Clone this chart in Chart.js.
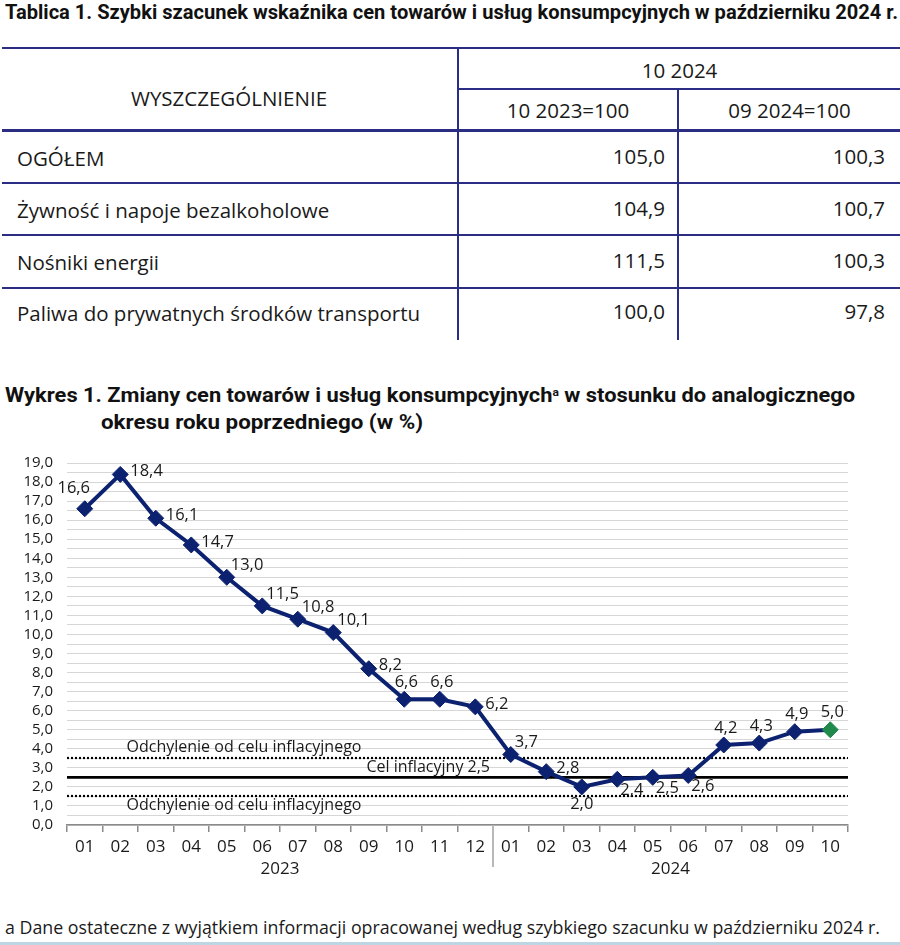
<!DOCTYPE html>
<html><head><meta charset="utf-8">
<script src="https://cdn.jsdelivr.net/npm/chart.js@4.4.0/dist/chart.umd.min.js"></script>
<style>
html,body{margin:0;padding:0;background:#fff;width:900px;height:945px;overflow:hidden;position:relative;font-family:"Open Sans",sans-serif;color:#1a1a1a}
.t{position:absolute;white-space:nowrap;line-height:26px;height:26px}
.title{font-family:"Liberation Sans Narrow","Roboto",sans-serif;font-weight:bold;font-size:20px;color:#111;transform-origin:0 50%}
.cell{font-size:20.5px}
.r{text-align:right}
.c{text-align:center}
.ln{position:absolute;background:#2b2d84}
#chartWrap{position:absolute;left:0;top:440px;width:900px;height:440px}
</style></head><body>

<div class="t title fit" data-w="893" style="left:5px;top:-1px">Tablica 1. Szybki szacunek wskaźnika cen towarów i usług konsumpcyjnych w październiku 2024 r.</div>

<!-- table lines -->
<div class="ln" style="left:2px;top:47px;width:898px;height:2px"></div>
<div class="ln" style="left:458px;top:88px;width:442px;height:2px"></div>
<div class="ln" style="left:2px;top:129px;width:898px;height:3px"></div>
<div class="ln" style="left:2px;top:182px;width:898px;height:2px"></div>
<div class="ln" style="left:2px;top:234px;width:898px;height:2px"></div>
<div class="ln" style="left:2px;top:287px;width:898px;height:2px"></div>
<div class="ln" style="left:457px;top:47px;width:2px;height:293px"></div>
<div class="ln" style="left:677px;top:88px;width:2px;height:252px"></div>

<div id="table"></div>

<div class="t title fit" data-w="850" style="left:5px;top:380px">Wykres 1. Zmiany cen towarów i usług konsumpcyjnych<sup style="font-size:11px;vertical-align:6px">a</sup> w stosunku do analogicznego</div>
<div class="t title fit" data-w="322" style="left:101px;top:409px">okresu roku poprzedniego (w %)</div>

<div id="chartWrap"><canvas id="c" width="900" height="440"></canvas></div>

<div class="t fit" data-w="875" style="left:5px;top:914px;font-size:18.5px;transform-origin:0 50%">a Dane ostateczne z wyjątkiem informacji opracowanej według szybkiego szacunku w październiku 2024 r.</div>
<div style="position:absolute;left:0;top:942px;width:900px;height:3px;background:#bcd6e4"></div>

<script>
// ---------- table data ----------
const tableHeadLabel = "WYSZCZEGÓLNIENIE";
const tablePeriod = "10 2024";
const tableColumns = ["10 2023=100", "09 2024=100"];
const tableRows = ["OGÓŁEM", "Żywność i napoje bezalkoholowe", "Nośniki energii", "Paliwa do prywatnych środków transportu"];
const tableYoY = ["105,0", "104,9", "111,5", "100,0"];
const tableMoM = ["100,3", "100,7", "100,3", "97,8"];

// ---------- chart data ----------
const months = ["01","02","03","04","05","06","07","08","09","10","11","12","01","02","03","04","05","06","07","08","09","10"];
const years = ["2023", "2024"];
const yearMonthCounts = [12, 10];
const cpi = [16.6, 18.4, 16.1, 14.7, 13.0, 11.5, 10.8, 10.1, 8.2, 6.6, 6.6, 6.2, 3.7, 2.8, 2.0, 2.4, 2.5, 2.6, 4.2, 4.3, 4.9, 5.0];
const targetValue = 2.5;
const bandUpper = 3.5;
const bandLower = 1.5;
const bandLabel = "Odchylenie od celu inflacyjnego";
const targetLabel = "Cel inflacyjny 2,5";
const yMin = 0, yMax = 19, yStep = 0.5;

// label placement per point (style only)
const labelPlacement = ["ul","r","r","r","ru","ru","ru","ru","r","u","u","r","ru","r","d","rd","rd","rd","u","u","u","u"];

// ---------- build table ----------
(function(){
  const t = document.getElementById('table');
  let h = '';
  h += `<div class="t cell c" style="left:0;width:458px;top:85px">${tableHeadLabel}</div>`;
  h += `<div class="t cell c" style="left:459px;width:441px;top:57px">${tablePeriod}</div>`;
  h += `<div class="t cell c" style="left:459px;width:218px;top:97px">${tableColumns[0]}</div>`;
  h += `<div class="t cell c" style="left:679px;width:221px;top:97px">${tableColumns[1]}</div>`;
  const rowY = [145, 197, 249, 300];
  tableRows.forEach((r,i)=>{
    h += `<div class="t cell" style="left:17px;top:${rowY[i]}px">${r}</div>`;
    h += `<div class="t cell r" style="left:459px;width:206px;top:${rowY[i]-2}px">${tableYoY[i]}</div>`;
    h += `<div class="t cell r" style="left:679px;width:206px;top:${rowY[i]-2}px">${tableMoM[i]}</div>`;
  });
  t.innerHTML = h;
})();

// fit text widths
document.querySelectorAll('.fit').forEach(el=>{
  const w = el.getBoundingClientRect().width;
  const target = +el.dataset.w;
  el.style.transformOrigin = '0 50%';
  el.style.transform = `scaleX(${target / w})`;
});

// ---------- chart ----------
const navy = '#0c2270';
const green = '#1f8a4c';
const FONT = '"Open Sans", sans-serif';
const fmt = v => v.toFixed(1).replace('.', ',');

const offsets = {
  ul: {dx:-11, dy:-20, align:'center'},
  r:  {dx:10,  dy:-3,  align:'left'},
  ru: {dx:4,   dy:-12, align:'left'},
  u:  {dx:2,   dy:-17, align:'center'},
  d:  {dx:0,   dy:17,  align:'center'},
  rd: {dx:3,   dy:11,  align:'left'}
};

const refPlugin = {
  id: 'refs',
  beforeDatasetsDraw(chart){
    const {ctx, chartArea:a, scales:{y}} = chart;
    ctx.save();
    ctx.strokeStyle = '#000';
    ctx.lineWidth = 2.2;
    ctx.setLineDash([2,2]);
    [bandUpper, bandLower].forEach(v=>{
      const py = Math.round(y.getPixelForValue(v));
      ctx.beginPath(); ctx.moveTo(a.left, py); ctx.lineTo(a.right, py); ctx.stroke();
    });
    ctx.setLineDash([]);
    ctx.lineWidth = 2.6;
    const ty = y.getPixelForValue(targetValue);
    ctx.beginPath(); ctx.moveTo(a.left, ty); ctx.lineTo(a.right, ty); ctx.stroke();
    ctx.fillStyle = '#1a1a1a';
    ctx.font = '16px ' + FONT;
    ctx.textBaseline = 'middle';
    ctx.textAlign = 'center';
    ctx.fillText(bandLabel, a.left + 177, y.getPixelForValue(bandUpper) - 11);
    ctx.fillText(bandLabel, a.left + 177, y.getPixelForValue(bandLower) + 9);
    ctx.textAlign = 'right';
    ctx.fillText(targetLabel, a.left + 423, ty - 10);
    ctx.restore();
  },
  afterDatasetsDraw(chart){
    const {ctx} = chart;
    const meta = chart.getDatasetMeta(0);
    ctx.save();
    ctx.fillStyle = '#1a1a1a';
    ctx.font = '16.5px ' + FONT;
    ctx.textBaseline = 'middle';
    meta.data.forEach((pt,i)=>{
      const o = offsets[labelPlacement[i]];
      ctx.textAlign = o.align;
      ctx.fillText(fmt(cpi[i]), pt.x + o.dx, pt.y + o.dy);
    });
    ctx.restore();
  },
  afterDraw(chart){
    const {ctx, chartArea:a, scales:{x}} = chart;
    ctx.save();
    ctx.fillStyle = '#1a1a1a';
    ctx.font = '17px ' + FONT;
    ctx.textAlign = 'center';
    ctx.textBaseline = 'middle';
    let start = 0;
    years.forEach((yr,k)=>{
      const end = start + yearMonthCounts[k] - 1;
      const cx = (x.getPixelForValue(start) + x.getPixelForValue(end)) / 2;
      ctx.fillText(yr, cx, a.bottom + 44);
      if (k < years.length - 1) {
        const sx = Math.round((x.getPixelForValue(end) + x.getPixelForValue(end+1)) / 2);
        ctx.strokeStyle = '#b8b8b8';
        ctx.lineWidth = 2;
        ctx.beginPath(); ctx.moveTo(sx, a.bottom); ctx.lineTo(sx, a.bottom + 42); ctx.stroke();
      }
      start = end + 1;
    });
    ctx.restore();
  }
};

new Chart(document.getElementById('c'), {
  type: 'line',
  data: {
    labels: months,
    datasets: [{
      data: cpi,
      borderColor: navy,
      borderWidth: 4,
      tension: 0,
      pointStyle: 'rectRot',
      pointRadius: 8,
      pointBackgroundColor: c => c.dataIndex === cpi.length - 1 ? green : navy,
      pointBorderColor: c => c.dataIndex === cpi.length - 1 ? green : navy,
      pointBorderWidth: 1
    }]
  },
  options: {
    responsive: false,
    animation: false,
    devicePixelRatio: 1,
    layout: { padding: { top: 17, right: 52, left: 0, bottom: 0 } },
    plugins: { legend: { display: false }, tooltip: { enabled: false } },
    scales: {
      x: {
        offset: true,
        grid: { offset: true, drawOnChartArea: false, drawTicks: true, tickLength: 7, color: '#8a8a8a', lineWidth: 1.5 },
        border: { color: '#8a8a8a', width: 1.5 },
        ticks: { font: { family: FONT, size: 17 }, color: '#1a1a1a', padding: 5, maxRotation: 0, autoSkip: false },
        afterFit(s){ s.height = 55; }
      },
      y: {
        min: yMin, max: yMax,
        ticks: {
          stepSize: yStep, autoSkip: false,
          callback: v => Math.abs(v - Math.round(v)) < 1e-6 ? fmt(v) : '',
          font: { family: FONT, size: 15 }, color: '#1a1a1a', padding: 14
        },
        grid: { color: '#d6d6d6', drawTicks: false, lineWidth: 1 },
        border: { display: false },
        afterFit(s){ s.width = 67; }
      }
    }
  },
  plugins: [refPlugin]
});
</script>
</body></html>
